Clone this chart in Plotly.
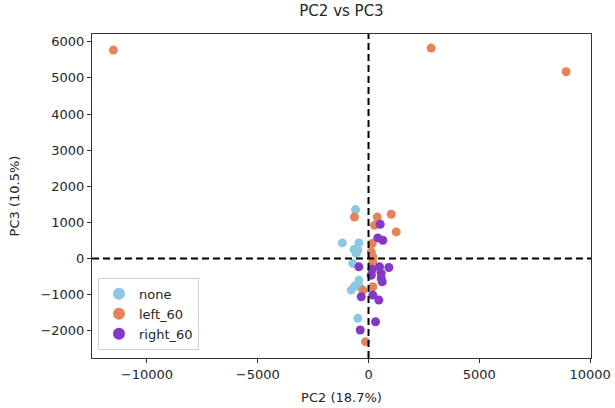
import plotly.graph_objects as go

# ---- data ----
none_x = [-587, -1187, -437, -482, -557, -708, -437, -632, -783, -406, -482, -650]
none_y = [1353, 431, 431, 229, 138, -138, -599, -765, -875, -783, -1657, 250]

left60_x = [-11516, 2828, 8918, -632, 393, 1025, 271, 1250, 167, 122, 194, 194, 226, 122, -256, 194, -136]
left60_y = [5770, 5825, 5169, 1149, 1149, 1224, 920, 735, 414, 182, 44, -94, -300, -461, -875, -783, -2303]

right60_x = [528, 416, 646, -437, 497, 917, 573, 122, 618, 573, -330, 194, 466, 316, -375, 150]
right60_y = [947, 569, 505, -232, -232, -249, -414, -461, -646, -552, -1060, -1014, -1152, -1751, -1980, -300]

series_names = ["none", "left_60", "right_60"]
series_colors = ["#8cc8e4", "#e5845a", "#8338c8"]

x_range = [-12480, 10040]
y_range = [-2755, 6215]
x_ticks = [-10000, -5000, 0, 5000, 10000]
y_ticks = [-2000, -1000, 0, 1000, 2000, 3000, 4000, 5000, 6000]

FONT = "DejaVu Sans"

fig = go.Figure()
for name, xs, ys, col in zip(series_names, [none_x, left60_x, right60_x],
                             [none_y, left60_y, right60_y], series_colors):
    fig.add_trace(go.Scatter(x=xs, y=ys, mode="markers", name=name,
                             marker=dict(color=col, size=9, line=dict(width=0))))

# dashed zero lines
fig.add_shape(type="line", xref="x", yref="paper", x0=0, x1=0, y0=0, y1=1,
              line=dict(color="black", width=2, dash="7px,4px"), layer="above")
fig.add_shape(type="line", xref="paper", yref="y", x0=0, x1=1, y0=0, y1=0,
              line=dict(color="black", width=2, dash="7px,4px"), layer="above")

axis_common = dict(showgrid=False, zeroline=False, showline=True, linecolor="#333333",
                   linewidth=1, mirror=True, ticks="outside", ticklen=4, tickcolor="#333333",
                   automargin=False,
                   tickfont=dict(family=FONT, size=13, color="#262626"))

fig.update_xaxes(range=x_range, tickvals=x_ticks,
                 ticktext=["\u221210000", "\u22125000", "0", "5000", "10000"],
                 title=dict(text="PC2 (18.7%)", font=dict(family=FONT, size=13, color="#262626"), standoff=12),
                 **axis_common)
fig.update_yaxes(range=y_range, tickvals=y_ticks,
                 ticktext=["\u22122000", "\u22121000", "0", "1000", "2000", "3000", "4000", "5000", "6000"],
                 title=dict(text="PC3 (10.5%)", font=dict(family=FONT, size=13, color="#262626"), standoff=17),
                 **axis_common)

fig.update_layout(
    width=615, height=408,
    margin=dict(l=92, r=24, t=34, b=50, autoexpand=False),
    plot_bgcolor="white", paper_bgcolor="white",
    title=dict(text="PC2 vs PC3", x=0.5, xref="paper", xanchor="center",
               y=1 - 11 / 408, yanchor="middle", font=dict(family=FONT, size=15, color="#262626")),
    legend=dict(x=0.012, y=0.025, xanchor="left", yanchor="bottom",
                bgcolor="rgba(255,255,255,0.85)", bordercolor="#d0d0d0", borderwidth=1,
                font=dict(family=FONT, size=13, color="#262626"),
                itemsizing="constant", tracegroupgap=0),
    showlegend=True,
)

fig.write_html("out.html")
